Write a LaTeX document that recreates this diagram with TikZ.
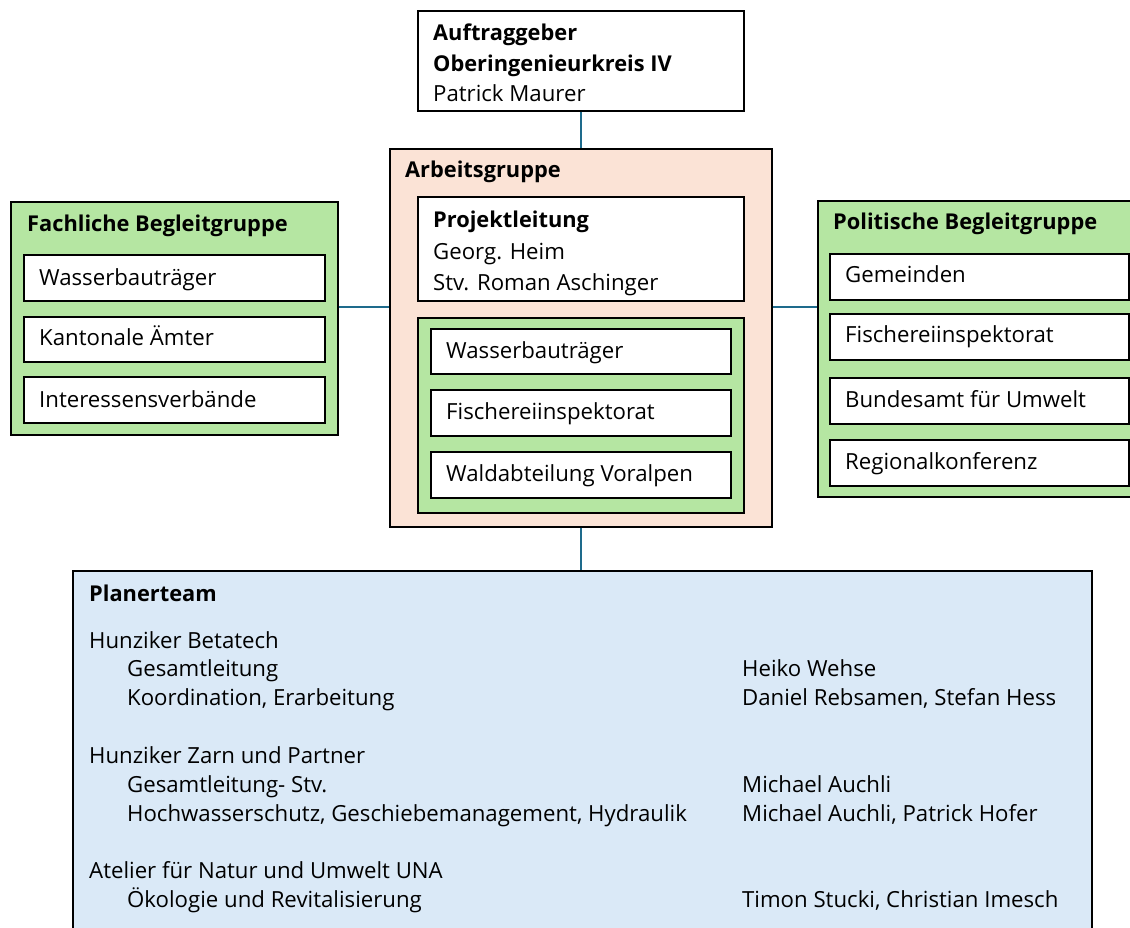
\documentclass[tikz,border=0pt]{standalone}
\usepackage{fontspec}
\setmainfont{Open Sans}
\definecolor{peach}{HTML}{FBE3D6}
\definecolor{lgreen}{HTML}{B5E6A2}
\definecolor{lblue}{HTML}{DAE9F7}
\definecolor{conn}{HTML}{1E6B8C}
\tikzset{
  box/.style={draw=black, line width=1.6pt, inner sep=0pt, anchor=north west},
  wbox/.style={box, fill=white},
  gbox/.style={box, fill=lgreen},
  txt/.style={anchor=base west, inner sep=0pt, font=\fontsize{22.2}{26}\selectfont},
  btxt/.style={txt, font=\fontsize{21.8}{26}\selectfont\bfseries},
  link/.style={draw=conn, line width=2.6pt}
}
\begin{document}
\begin{tikzpicture}[x=1pt,y=-1pt]
\useasboundingbox (0,0) rectangle (1130,928);
\clip (0,0) rectangle (1130,928);
% Auftraggeber
\node[wbox, minimum width=326, minimum height=100] (auf) at (417,10) {};
\node[btxt] (auf1) at (433,41) {Auftraggeber};
\node[btxt] (auf2) at (433,72) {Oberingenieurkreis IV};
\node[txt] (auf3) at (433,102) {Patrick Maurer};
% Arbeitsgruppe
\node[box, fill=peach, minimum width=382, minimum height=378] (arb) at (389,148) {};
\node[btxt] (arbt) at (405,178) {Arbeitsgruppe};
\node[wbox, minimum width=326, minimum height=104] (pl) at (417,196) {};
\node[btxt] (pl1) at (433,228) {Projektleitung};
\node[txt] (pl2) at (433,259) {Georg. Heim};
\node[txt] (pl3) at (433,290) {Stv. Roman Aschinger};
\node[gbox, minimum width=326, minimum height=195] (ag) at (417,317) {};
\node[wbox, minimum width=300, minimum height=45] (ag1) at (430,328) {};
\node[txt] at (446,358) {Wasserbauträger};
\node[wbox, minimum width=300, minimum height=46] (ag2) at (430,389) {};
\node[txt] at (446,419) {Fischereiinspektorat};
\node[wbox, minimum width=300, minimum height=46] (ag3) at (430,451) {};
\node[txt] at (446,481) {Waldabteilung Voralpen};
% Fachliche Begleitgruppe
\node[gbox, minimum width=327, minimum height=233] (fach) at (10,201) {};
\node[btxt] at (27,232) {Fachliche Begleitgruppe};
\node[wbox, minimum width=301, minimum height=46] (f1) at (23,254) {};
\node[txt] at (39,285) {Wasserbauträger};
\node[wbox, minimum width=301, minimum height=45] (f2) at (23,316) {};
\node[txt] at (39,345) {Kantonale Ämter};
\node[wbox, minimum width=301, minimum height=46] (f3) at (23,376) {};
\node[txt] at (39,407) {Interessensverbände};
% Politische Begleitgruppe
\node[gbox, minimum width=330, minimum height=296] (pol) at (817,200) {};
\node[btxt] at (833,230) {Politische Begleitgruppe};
\node[wbox, minimum width=299, minimum height=46] (p1) at (829,253) {};
\node[txt] at (845,283) {Gemeinden};
\node[wbox, minimum width=299, minimum height=46] (p2) at (829,313) {};
\node[txt] at (845,342) {Fischereiinspektorat};
\node[wbox, minimum width=299, minimum height=46] (p3) at (829,377) {};
\node[txt] at (845,407) {Bundesamt für Umwelt};
\node[wbox, minimum width=299, minimum height=46] (p4) at (829,439) {};
\node[txt] at (845,469) {Regionalkonferenz};
% Planerteam
\node[box, fill=lblue, minimum width=1019, minimum height=400] (plan) at (72,570) {};
\node[btxt] at (89,601) {Planerteam};
\node[txt] at (89,648) {Hunziker Betatech};
\node[txt] at (127,676) {Gesamtleitung};
\node[txt] at (127,705) {Koordination, Erarbeitung};
\node[txt] at (89,763) {Hunziker Zarn und Partner};
\node[txt] at (127,792) {Gesamtleitung- Stv.};
\node[txt] at (127,821) {Hochwasserschutz, Geschiebemanagement, Hydraulik};
\node[txt] at (89,878) {Atelier für Natur und Umwelt UNA};
\node[txt] at (127,907) {Ökologie und Revitalisierung};
\node[txt] at (742,676) {Heiko Wehse};
\node[txt] at (742,705) {Daniel Rebsamen, Stefan Hess};
\node[txt] at (742,792) {Michael Auchli};
\node[txt] at (742,821) {Michael Auchli, Patrick Hofer};
\node[txt] at (742,907) {Timon Stucki, Christian Imesch};
% connectors
\coordinate (ly) at (0,307);
\draw[link] (auf.south) -- (arb.north);
\draw[link] (arb.south) -- (arb.south |- plan.north);
\draw[link] (fach.east |- ly) -- (arb.west |- ly);
\draw[link] (arb.east |- ly) -- (pol.west |- ly);
\end{tikzpicture}
\end{document}
